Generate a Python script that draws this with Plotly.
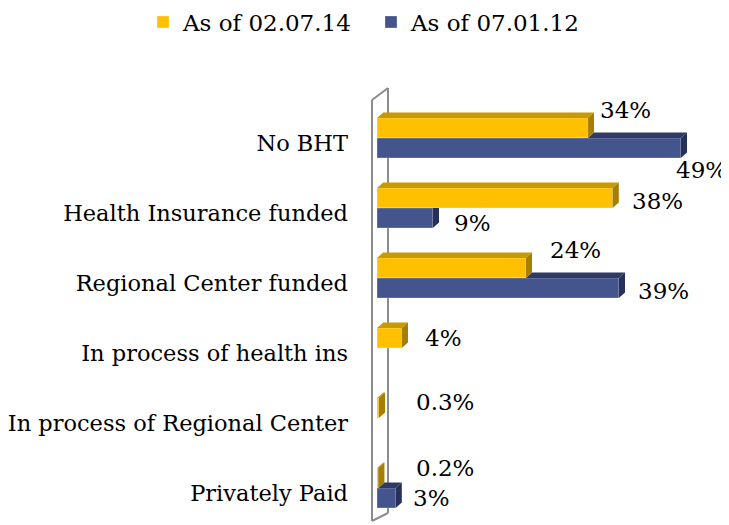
import plotly.graph_objects as go

# ---------------- data ----------------
categories = ["No BHT", "Health Insurance funded", "Regional Center funded",
              "In process of health ins", "In process of Regional Center", "Privately Paid"]
series_2014 = [34, 38, 24, 4, 0.3, 0.2]
series_2012 = [49, 9, 39, 0, 0, 3]
name_2014 = "As of 02.07.14"
name_2012 = "As of 07.01.12"

# ---------------- style ----------------
FONT = "DejaVu Serif"
YEL, YEL_TOP, YEL_SIDE = "#FFC000", "#C99A00", "#A67F00"
BLU, BLU_TOP, BLU_SIDE = "#44548C", "#2F3B66", "#26305A"
W = 0.286      # bar thickness (category units)
DX = 1.0       # 3-D depth along x (data units)
DY = 0.08      # 3-D depth along y (category units)
# label offsets (pixels) for each category, per series
lab14_dx = [10, 17, 22, 21, 35, 36]
lab14_dy = [18, -3, 18, 0, 6, 10]
lab12_dx = [-7, 19, 17, 0, 0, 15]
lab12_dy = [-22, -5, -3, 0, 0, 0]

pos = list(range(len(categories)))

# page body adds an 8px offset, so the figure is 8px smaller than the window
FW, FH = 721, 517
L, PT, PH = 369, 95, 420
PW = FW - L


def poly_trace(polys, color):
    xs, ys = [], []
    for p in polys:
        for (x, y) in p:
            xs.append(x)
            ys.append(y)
        xs.append(p[0][0]); ys.append(p[0][1])
        xs.append(None); ys.append(None)
    return go.Scatter(x=xs, y=ys, mode="lines", fill="toself", fillcolor=color,
                      line=dict(width=0, color=color), hoverinfo="skip",
                      showlegend=False, connectgaps=False)


fig = go.Figure()
fig.add_trace(go.Bar(y=pos, x=series_2014, orientation="h", width=W, offset=-W,
                     marker=dict(color=YEL, line=dict(color="rgba(255,255,255,0.5)", width=0.6)),
                     name=name_2014, legend="legend"))
fig.add_trace(go.Bar(y=pos, x=series_2012, orientation="h", width=W, offset=0,
                     marker=dict(color=BLU, line=dict(color="rgba(255,255,255,0.5)", width=0.6)),
                     name=name_2012, legend="legend2"))

# blue 3-D faces (drawn first, partially hidden by yellow)
b_top, b_side = [], []
for p, vb, vy in zip(pos, series_2012, series_2014):
    if vb <= 0:
        continue
    t, b = p, p + W
    if vb > vy:
        b_top.append([(vy, t), (vb, t), (vb + DX, t - DY), (vy + DX, t - DY)])
        b_side.append([(vb, t), (vb + DX, t - DY), (vb + DX, b - DY), (vb, b)])
    else:
        b_side.append([(vb, t), (vb + DX, t), (vb + DX, b - DY), (vb, b)])
fig.add_trace(poly_trace(b_top, BLU_TOP))
fig.add_trace(poly_trace(b_side, BLU_SIDE))

# yellow 3-D faces
y_top, y_side = [], []
for p, vy in zip(pos, series_2014):
    if vy <= 0:
        continue
    t, b = p - W, p
    y_top.append([(0, t), (vy, t), (vy + DX, t - DY), (DX, t - DY)])
    y_side.append([(vy, t), (vy + DX, t - DY), (vy + DX, b - DY), (vy, b)])
fig.add_trace(poly_trace(y_top, YEL_TOP))
fig.add_trace(poly_trace(y_side, YEL_SIDE))

# data labels
LABFONT = dict(family=FONT, size=23, color="black")
for p, v, dx, dy in zip(pos, series_2014, lab14_dx, lab14_dy):
    if v > 0:
        fig.add_annotation(x=v, y=p - W / 2, text=f"{v:g}%", showarrow=False,
                           xanchor="left", yanchor="middle", xshift=dx, yshift=dy,
                           font=LABFONT)
for p, v, dx, dy in zip(pos, series_2012, lab12_dx, lab12_dy):
    if v > 0:
        fig.add_annotation(x=v, y=p + W / 2, text=f"{v:g}%", showarrow=False,
                           xanchor="left", yanchor="middle", xshift=dx, yshift=dy,
                           font=LABFONT)

# side wall of the 3-D plot (figure pixel coordinates)
wall = dict(color="#8C8C8C", width=2)
def px(x):
    return (x - L) / PW
def py(y):
    return (PT + PH - y) / PH
for (x0, y0, x1, y1) in [(364, 92, 364, 513), (380, 80, 380, 505),
                         (364, 92, 380, 80), (364, 513, 380, 505)]:
    fig.add_shape(type="line", xref="paper", yref="paper", layer="below",
                  x0=px(x0), y0=py(y0), x1=px(x1), y1=py(y1), line=wall)

LEGFONT = dict(family=FONT, size=23, color="black")
fig.update_layout(
    width=FW, height=FH,
    margin=dict(l=L, r=0, t=PT, b=FH - PT - PH, autoexpand=False),
    paper_bgcolor="white", plot_bgcolor="white",
    barmode="overlay",
    font=dict(family=FONT, size=20, color="black"),
    showlegend=True,
    legend=dict(orientation="h", xref="container", yref="container",
                x=135 / FW, y=1 - 14 / FH, xanchor="left", yanchor="middle",
                font=LEGFONT),
    legend2=dict(orientation="h", xref="container", yref="container",
                 x=363 / FW, y=1 - 14 / FH, xanchor="left", yanchor="middle",
                 font=LEGFONT),
    xaxis=dict(range=[0, PW / 6.2], visible=False, fixedrange=True),
    yaxis=dict(range=[5.5, -0.5], tickvals=[p + 0.07 for p in pos], ticktext=categories,
               showgrid=False, zeroline=False, showline=False, ticks="", automargin=False,
               ticklabelstandoff=28, tickfont=dict(family=FONT, size=22.5, color="black")),
)

fig.write_html("out.html")
